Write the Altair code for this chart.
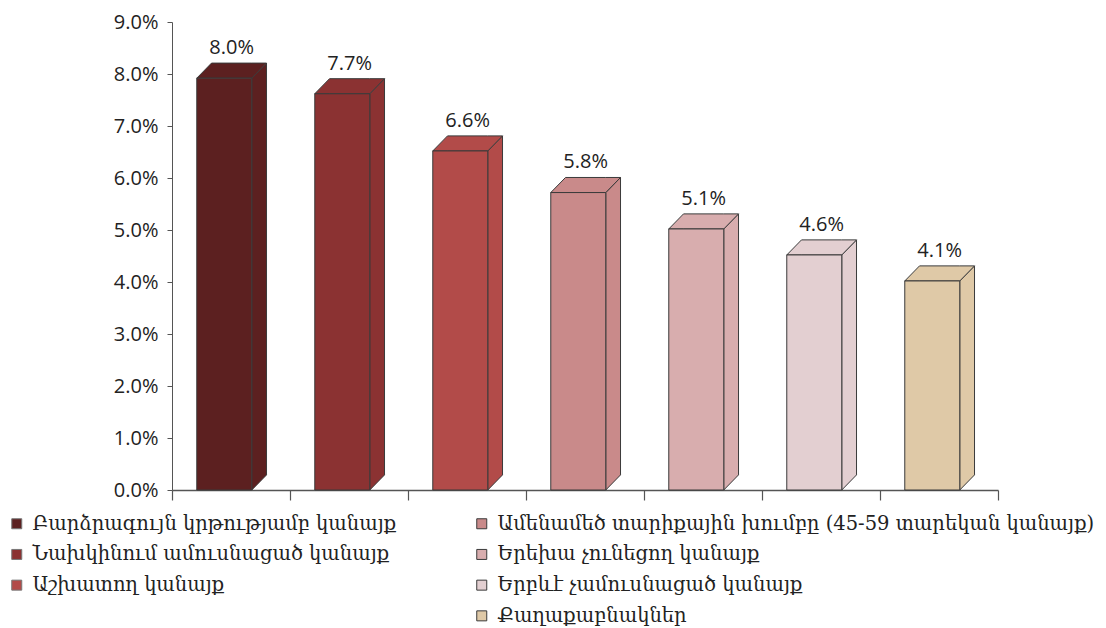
import altair as alt
import pandas as pd

# ---- data ----
categories = [
    "Բարձրագույն կրթությամբ կանայք",
    "Նախկինում ամուսնացած կանայք",
    "Աշխատող կանայք",
    "Ամենամեծ տարիքային խումբը (45-59 տարեկան կանայք)",
    "Երեխա չունեցող կանայք",
    "Երբևէ չամուսնացած կանայք",
    "Քաղաքաբնակներ",
]
values = [0.080, 0.077, 0.066, 0.058, 0.051, 0.046, 0.041]
colors = ["#5C2020", "#8B3232", "#B24B49", "#C98A8A", "#D8ADAE", "#E3CFD1", "#DFC9A7"]
y_ticks = [0.0, 0.01, 0.02, 0.03, 0.04, 0.05, 0.06, 0.07, 0.08, 0.09]
x_band_edges = [0, 1, 2, 3, 4, 5, 6, 7]

BAR_LEFT = 0.21
BAR_W = 0.466
DEPTH_X = 0.125
DEPTH_Y = 0.0029
FRONT_SHIFT = -0.0008
STROKE = "#3a3a3a"

rows, side_rows, top_rows = [], [], []
for i, (c, v, col) in enumerate(zip(categories, values, colors)):
    xl = i + BAR_LEFT
    xr = xl + BAR_W
    f = v + FRONT_SHIFT
    rows.append(dict(cat=c, v=v, f=f, zero=0.0, xl=xl, xr=xr,
                     xc=(xl + xr + DEPTH_X) / 2, vtop=f + DEPTH_Y, col=col, grp=0 if i < 3 else 1))
    side_rows += [dict(cat=c, col=col, x=xr, y=0.0, y2=f),
                  dict(cat=c, col=col, x=xr + DEPTH_X, y=DEPTH_Y, y2=f + DEPTH_Y)]
    top_rows += [dict(cat=c, col=col, x=xl, y=f, y2=f),
                 dict(cat=c, col=col, x=xl + DEPTH_X, y=f, y2=f + DEPTH_Y),
                 dict(cat=c, col=col, x=xr, y=f, y2=f + DEPTH_Y),
                 dict(cat=c, col=col, x=xr + DEPTH_X, y=f + DEPTH_Y, y2=f + DEPTH_Y)]

bars = pd.DataFrame(rows)
side = pd.DataFrame(side_rows)
top = pd.DataFrame(top_rows)

xscale = alt.Scale(domain=[0, 7], nice=False, zero=False)
yscale = alt.Scale(domain=[0, 0.09], nice=False)

xaxis = alt.Axis(values=x_band_edges, labels=False, title=None, grid=False,
                 tickSize=10, domainColor="#555", tickColor="#555", domainWidth=1.5, tickWidth=1.2)
yaxis = alt.Axis(values=y_ticks, format=".1%", title=None, grid=False, tickSize=5,
                 labelPadding=9, domainColor="#555", tickColor="#555",
                 labelFont="Open Sans", labelFontSize=20, labelColor="#222")

side_layer = alt.Chart(side).mark_area(stroke=STROKE, strokeWidth=1, strokeJoin="miter").encode(
    x=alt.X("x:Q", scale=xscale, axis=xaxis),
    y=alt.Y("y:Q", scale=yscale, axis=yaxis),
    y2="y2:Q",
    detail="cat:N",
    color=alt.Color("col:N", scale=None),
)
top_layer = alt.Chart(top).mark_area(stroke=STROKE, strokeWidth=1, strokeJoin="miter").encode(
    x=alt.X("x:Q", scale=xscale, axis=xaxis),
    y=alt.Y("y:Q", scale=yscale, axis=yaxis),
    y2="y2:Q",
    detail="cat:N",
    color=alt.Color("col:N", scale=None),
)

leg_common = dict(title=None, symbolType="square", symbolSize=100, symbolStrokeColor="#777",
                  symbolStrokeWidth=1, labelFont="DejaVu Serif", labelFontSize=19.5,
                  labelColor="#222", labelLimit=800, padding=0, rowPadding=9.7,
                  labelOffset=6, orient="none")

front1 = alt.Chart(bars).transform_filter("datum.grp == 0").mark_rect(stroke=STROKE, strokeWidth=1).encode(
    x=alt.X("xl:Q", scale=xscale, axis=xaxis),
    x2="xr:Q",
    y=alt.Y("zero:Q", scale=yscale, axis=yaxis),
    y2="f:Q",
    fill=alt.Fill("cat:N", sort=categories[:3],
                  scale=alt.Scale(domain=categories[:3], range=colors[:3]),
                  legend=alt.Legend(legendX=-165, legendY=492, **leg_common)),
)
front2 = alt.Chart(bars).transform_filter("datum.grp == 1").mark_rect(stroke=STROKE, strokeWidth=1).encode(
    x=alt.X("xl:Q", scale=xscale, axis=xaxis),
    x2="xr:Q",
    y=alt.Y("zero:Q", scale=yscale, axis=yaxis),
    y2="f:Q",
    color=alt.Color("cat:N", sort=categories[3:],
                    scale=alt.Scale(domain=categories[3:], range=colors[3:]),
                    legend=alt.Legend(legendX=300, legendY=492, **leg_common)),
)
labels = alt.Chart(bars).mark_text(font="Open Sans", fontSize=20, color="#222",
                                   baseline="bottom", dy=-5).encode(
    x=alt.X("xc:Q", scale=xscale, axis=xaxis),
    y=alt.Y("vtop:Q", scale=yscale, axis=yaxis),
    text=alt.Text("v:Q", format=".1%"),
)

chart = alt.layer(side_layer, top_layer, front1, front2, labels).properties(
    width=826, height=468,
    padding={"left": 164, "top": 14, "right": 100, "bottom": 138},
    autosize="none",
).configure_view(stroke=None).configure_axis(grid=False)

chart.save("out.html", embed_options={"renderer": "svg", "actions": False})
